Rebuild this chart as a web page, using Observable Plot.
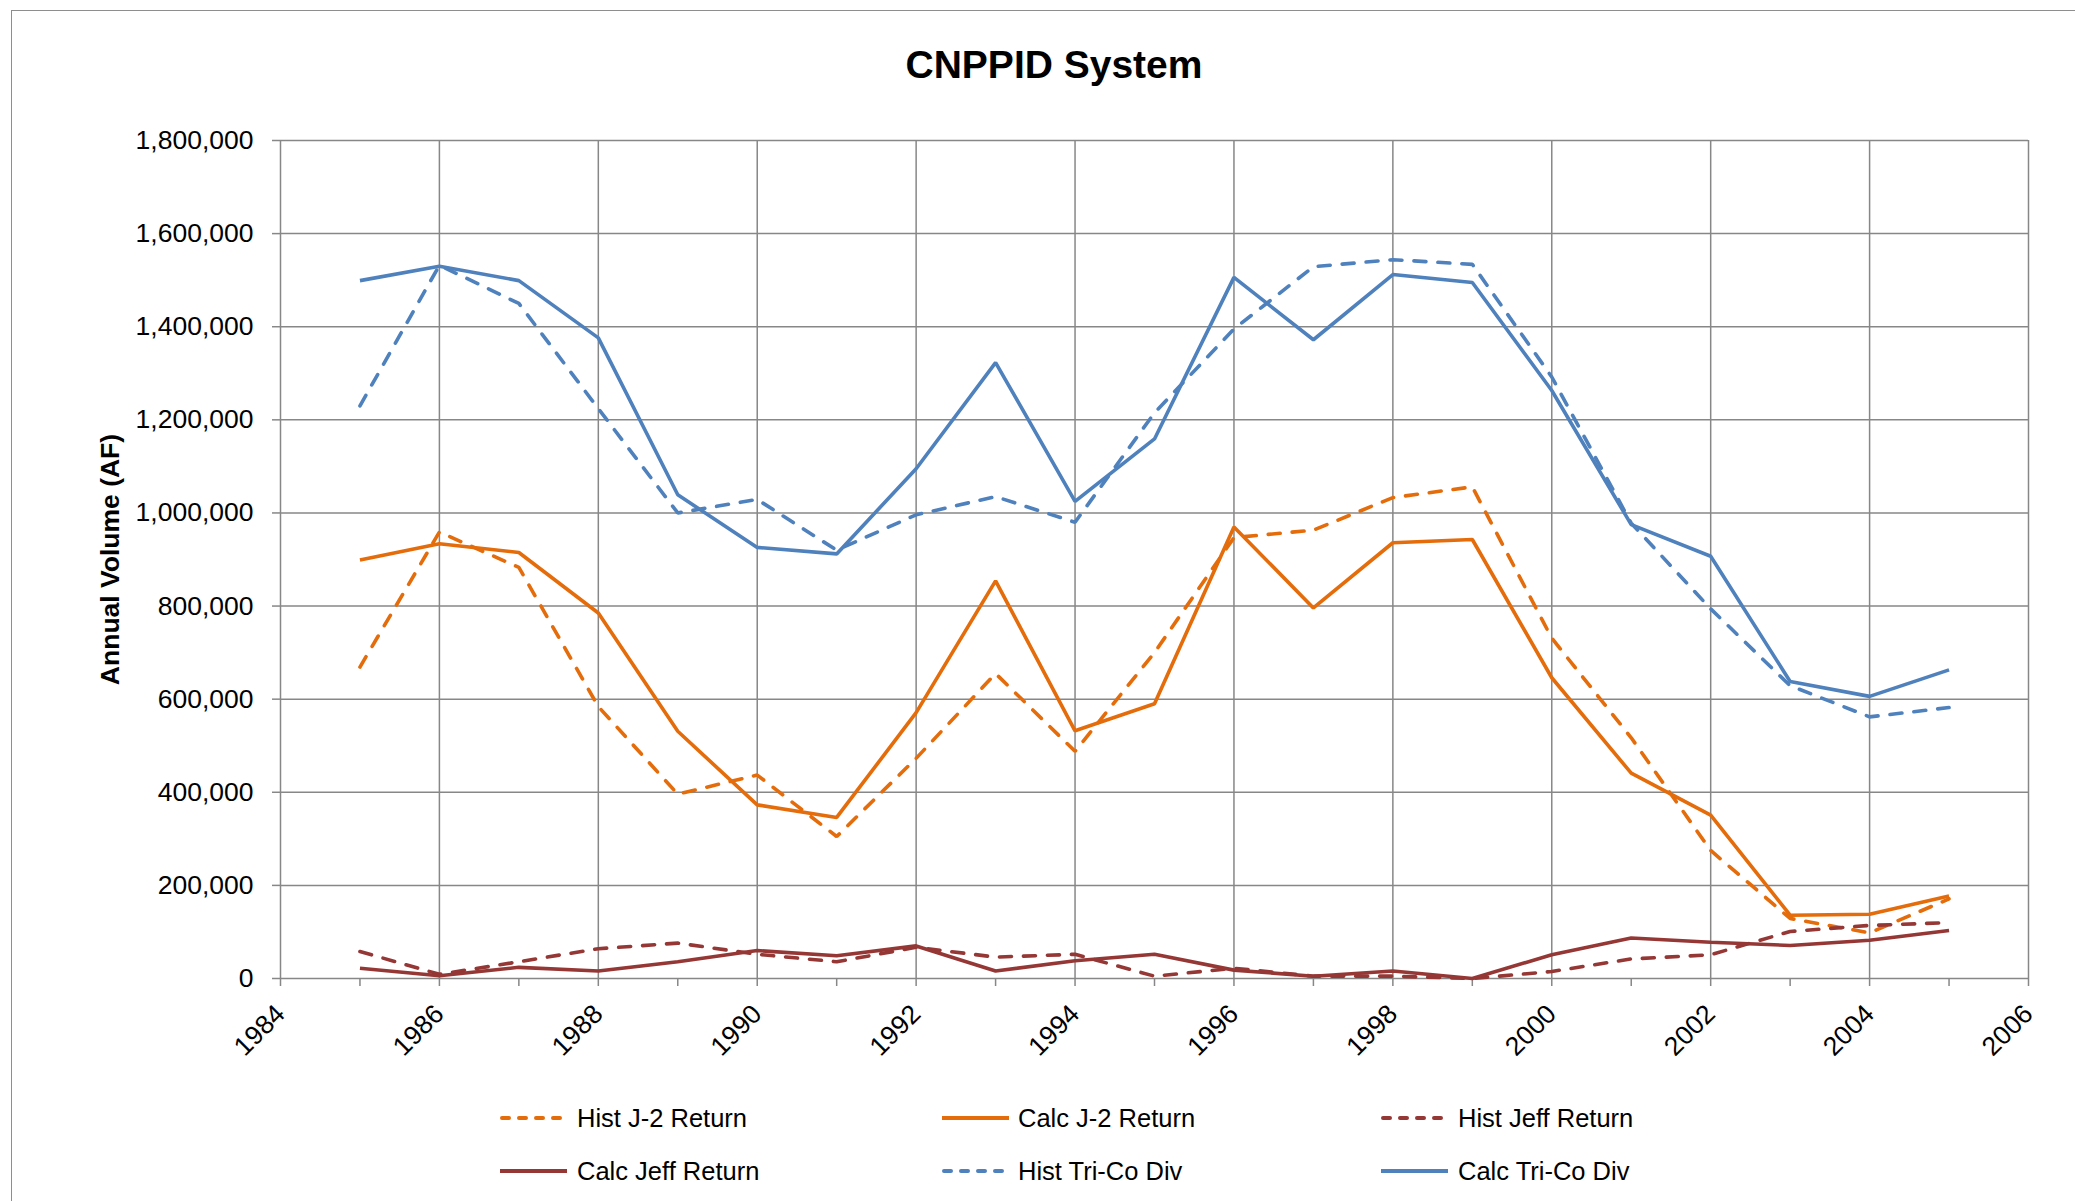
<!DOCTYPE html>
<html>
<head>
<meta charset="utf-8">
<script src="https://cdn.jsdelivr.net/npm/d3@7"></script>
<script src="https://cdn.jsdelivr.net/npm/@observablehq/plot@0.6"></script>
<style>
  html, body { margin: 0; padding: 0; background: #fff; overflow: hidden; }
  body { width: 2075px; height: 1201px; position: relative; font-family: "Liberation Sans", Arial, sans-serif; }
  #border { position: absolute; left: 11px; top: 10px; width: 2200px; height: 1400px; border: 1.5px solid #8e8e8e; box-sizing: border-box; }
  #title { position: absolute; left: 1054px; top: 45px; transform: translateX(-50%); font-size: 39px; line-height: 39px; font-weight: bold; color: #000; white-space: nowrap; }
  #chart { position: absolute; left: 0; top: 100px; }
  .leg { position: absolute; font-size: 25.5px; color: #000; white-space: nowrap; line-height: 30px; }
  .sw { position: absolute; }
</style>
</head>
<body>
<div id="border"></div>
<div id="title">CNPPID System</div>
<div id="chart"></div>
<div id="legend"></div>
<script>
// ---- Data ----
const years = [1985, 1986, 1987, 1988, 1989, 1990, 1991, 1992, 1993, 1994, 1995,
               1996, 1997, 1998, 1999, 2000, 2001, 2002, 2003, 2004, 2005];

const histJ2Return = [669000, 959000, 883000, 584000, 396000, 437000, 305000, 473000, 655000, 488000, 700000,
                      947000, 963000, 1033000, 1056000, 731000, 517000, 275000, 129000, 98000, 171000];
const calcJ2Return = [899000, 934000, 915000, 785000, 531000, 373000, 346000, 571000, 854000, 532000, 590000,
                      970000, 796000, 936000, 943000, 646000, 441000, 351000, 136000, 138000, 177000];
const histJeffReturn = [58000, 9000, 36000, 64000, 76000, 52000, 36000, 67000, 46000, 52000, 5000,
                        22000, 5000, 5000, 0, 15000, 42000, 51000, 101000, 114000, 120000];
const calcJeffReturn = [22000, 6000, 24000, 16000, 36000, 60000, 49000, 70000, 16000, 38000, 52000,
                        18000, 5000, 16000, 0, 51000, 87000, 78000, 71000, 82000, 103000];
const histTriCoDiv = [1230000, 1532000, 1450000, 1224000, 1000000, 1029000, 920000, 996000, 1035000, 980000, 1215000,
                      1395000, 1529000, 1544000, 1534000, 1292000, 978000, 794000, 629000, 562000, 582000];
const calcTriCoDiv = [1499000, 1530000, 1499000, 1376000, 1039000, 926000, 912000, 1095000, 1323000, 1025000, 1159000,
                      1506000, 1372000, 1512000, 1495000, 1263000, 975000, 907000, 638000, 606000, 663000];

const seriesNames = ["Hist J-2 Return", "Calc J-2 Return", "Hist Jeff Return",
                     "Calc Jeff Return", "Hist Tri-Co Div", "Calc Tri-Co Div"];
const seriesValues = [histJ2Return, calcJ2Return, histJeffReturn, calcJeffReturn, histTriCoDiv, calcTriCoDiv];
const seriesColors = ["#E46C0A", "#E46C0A", "#953735", "#953735", "#4F81BD", "#4F81BD"];
const seriesDashed = [true, false, true, false, true, false];

const xTicks = [1984, 1985, 1986, 1987, 1988, 1989, 1990, 1991, 1992, 1993, 1994, 1995,
                1996, 1997, 1998, 1999, 2000, 2001, 2002, 2003, 2004, 2005, 2006];
const xGrid = [1984, 1986, 1988, 1990, 1992, 1994, 1996, 1998, 2000, 2002, 2004, 2006];
const yTicks = [0, 200000, 400000, 600000, 800000, 1000000, 1200000, 1400000, 1600000, 1800000];

const DASH = "12,12";
const GRID = "#878787";

// ---- Chart ----
const lineMarks = seriesNames.map((name, k) =>
  Plot.line(years.map((yr, i) => ({year: yr, value: seriesValues[k][i], series: name})), {
    x: "year", y: "value",
    stroke: seriesColors[k], strokeWidth: 3.6,
    strokeDasharray: seriesDashed[k] ? DASH : null,
    strokeLinecap: seriesDashed[k] ? "round" : "butt",
    strokeLinejoin: "miter"
  })
);

const chart = Plot.plot({
  width: 2075,
  height: 968,
  marginLeft: 280,
  marginRight: 47,
  marginTop: 40,
  marginBottom: 90,
  style: {fontFamily: "'Liberation Sans', Arial, sans-serif", fontSize: "26.5px", background: "transparent", overflow: "visible"},
  x: {domain: [1984, 2006]},
  y: {domain: [0, 1800000]},
  marks: [
    Plot.gridX(xGrid, {stroke: GRID, strokeOpacity: 1, strokeWidth: 1.5}),
    Plot.gridY(yTicks, {stroke: GRID, strokeOpacity: 1, strokeWidth: 1.5}),
    Plot.axisY(yTicks, {tickSize: 8, tickPadding: 19, stroke: GRID, strokeWidth: 1.5,
                        tickFormat: d3.format(","), label: null}),
    Plot.axisX(xTicks, {tickSize: 8, tickPadding: 23, stroke: GRID, strokeWidth: 1.5, tickRotate: -45,
                        tickFormat: d => (d % 2 === 0 ? String(d) : ""), label: null}),
    Plot.text(["Annual Volume (AF)"], {frameAnchor: "left", textAnchor: "middle", lineAnchor: "middle",
                                       dx: -170, rotate: -90,
                                       fontWeight: "bold", fontSize: 26.5, fill: "#000"}),
    ...lineMarks
  ]
});
document.getElementById("chart").appendChild(chart);

// ---- Legend (HTML, below the SVG) ----
const legCols = [[500, 577], [942, 1018], [1381, 1458]];
const legRows = [1118, 1171];
const legend = document.getElementById("legend");
seriesNames.forEach((name, k) => {
  const col = legCols[k % 3], rowY = legRows[Math.floor(k / 3)];
  const ns = "http://www.w3.org/2000/svg";
  const svg = document.createElementNS(ns, "svg");
  svg.setAttribute("class", "sw");
  svg.setAttribute("width", 72);
  svg.setAttribute("height", 12);
  svg.style.left = (col[0] - 2) + "px";
  svg.style.top = (rowY - 6) + "px";
  const ln = document.createElementNS(ns, "line");
  ln.setAttribute("x1", 2); ln.setAttribute("x2", 69);
  ln.setAttribute("y1", 6); ln.setAttribute("y2", 6);
  ln.setAttribute("stroke", seriesColors[k]);
  ln.setAttribute("stroke-width", 4);
  if (seriesDashed[k]) { ln.setAttribute("stroke-dasharray", "7,10"); ln.setAttribute("stroke-linecap", "round"); ln.setAttribute("x1", 4); }
  svg.appendChild(ln);
  legend.appendChild(svg);
  const t = document.createElement("div");
  t.className = "leg";
  t.textContent = name;
  t.style.left = col[1] + "px";
  t.style.top = (rowY - 15) + "px";
  legend.appendChild(t);
});
</script>
</body>
</html>
